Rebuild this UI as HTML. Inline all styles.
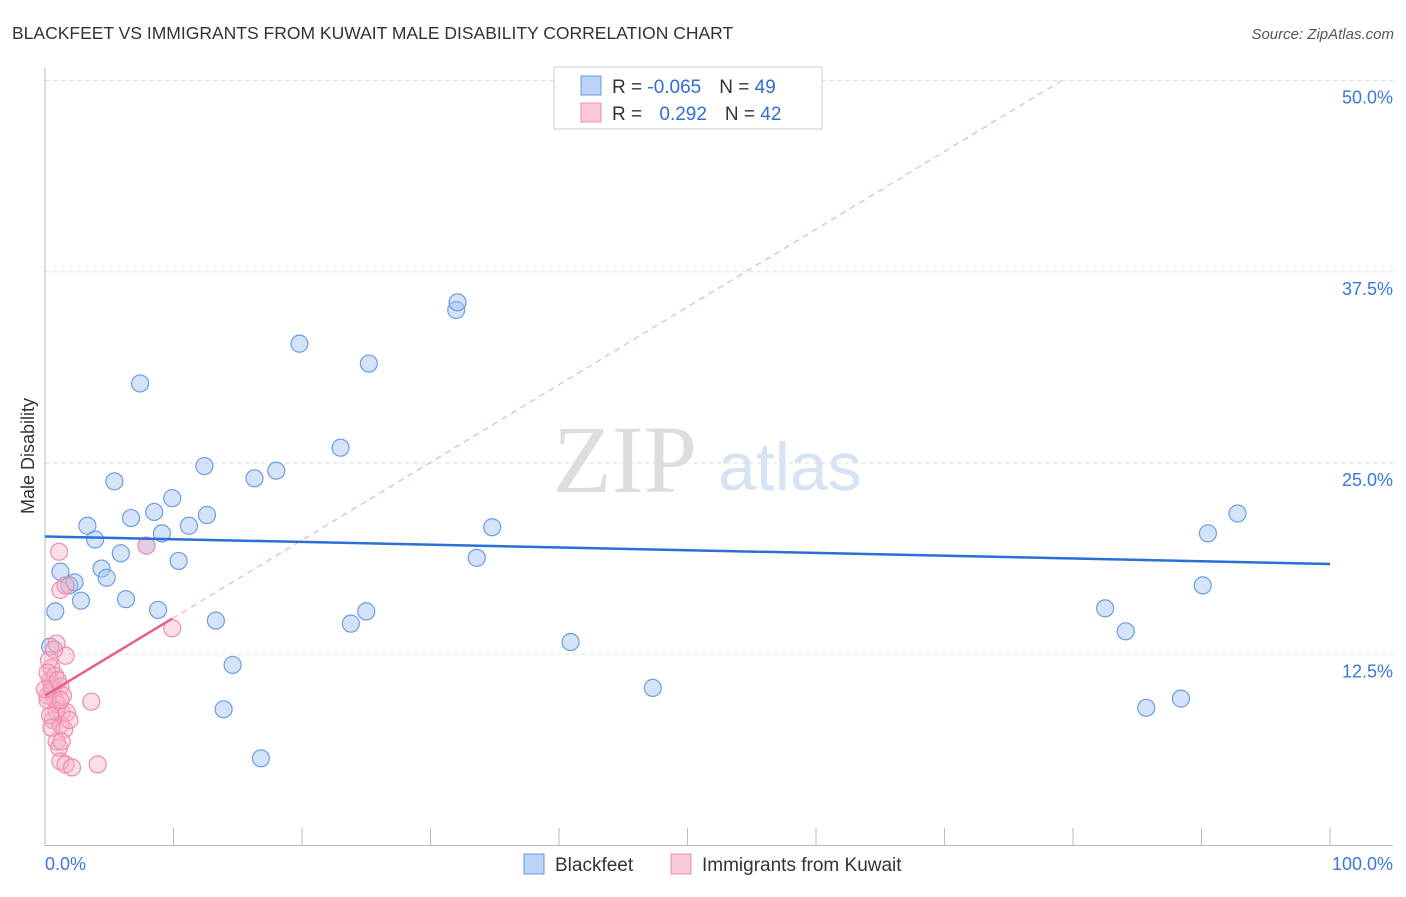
<!DOCTYPE html>
<html><head><meta charset="utf-8"><style>
body{margin:0;background:#fff;font-family:"Liberation Sans",sans-serif}
svg text{font-family:"Liberation Sans",sans-serif}
</style></head><body>
<svg id="chart" width="1406" height="892" viewBox="0 0 1406 892" xmlns="http://www.w3.org/2000/svg">
<text x="12" y="39" font-size="17.5" fill="#333">BLACKFEET VS IMMIGRANTS FROM KUWAIT MALE DISABILITY CORRELATION CHART</text>
<text x="1394" y="39" font-size="15" fill="#555" text-anchor="end" font-style="italic">Source: ZipAtlas.com</text>
<text x="553" y="492" font-size="96" fill="#ddd" font-family="Liberation Serif" style="font-family:'Liberation Serif',serif">ZIP</text>
<text x="718" y="490" font-size="68" fill="#d6e3f5">atlas</text>
<g id="grid"></g>
<g id="axes"></g>
<g id="marks"></g>
<text transform="translate(34,456) rotate(-90)" font-size="18" fill="#333" text-anchor="middle">Male Disability</text>
<g>
<rect x="554" y="67" width="268" height="62" fill="#fff" stroke="#ccc"/>
<rect x="581" y="76" width="20" height="19" fill="#bcd3f5" stroke="#6a9ae0"/>
<rect x="581" y="103" width="20" height="19" fill="#fbc8d8" stroke="#f08cab"/>
<text x="612" y="93" font-size="19" fill="#333">R = <tspan fill="#2f6fd4">-0.065</tspan><tspan dx="18">N = </tspan><tspan fill="#2f6fd4">49</tspan></text>
<text x="612" y="120" font-size="19" fill="#333">R = <tspan dx="12" fill="#2f6fd4">0.292</tspan><tspan dx="18">N = </tspan><tspan fill="#2f6fd4">42</tspan></text>
</g>
<g>
<rect x="524" y="854" width="20" height="20" fill="#bcd3f5" stroke="#6a9ae0"/>
<text x="555" y="871" font-size="19" fill="#333">Blackfeet</text>
<rect x="671" y="854" width="20" height="20" fill="#fbc8d8" stroke="#f08cab"/>
<text x="702" y="871" font-size="19" fill="#333">Immigrants from Kuwait</text>
</g>
</svg>
<script>
const yTicks=[12.5,25,37.5,50];
const yTickLabels=["12.5%","25.0%","37.5%","50.0%"];
const xTickCount=10;
const blueX=[0.8,1.2,1.9,2.3,2.8,3.3,3.9,4.4,4.8,5.4,5.9,6.3,6.7,7.4,7.9,8.5,8.8,9.1,9.9,10.4,11.2,12.4,12.6,13.3,13.9,14.6,16.3,16.8,18.0,19.8,23.0,23.8,25.0,25.2,32.0,32.1,33.6,34.8,40.9,47.3,50.0,82.5,84.1,85.7,88.4,90.1,90.5,92.8,0.4];
const blueY=[15.3,17.9,17.0,17.2,16.0,20.9,20.0,18.1,17.5,23.8,19.1,16.1,21.4,30.2,19.6,21.8,15.4,20.4,22.7,18.6,20.9,24.8,21.6,14.7,8.9,11.8,24.0,5.7,24.5,32.8,26.0,14.5,15.3,31.5,35.0,35.5,18.8,20.8,13.3,10.3,50.0,15.5,14.0,9.0,9.6,17.0,20.4,21.7,13.0];
const pinkX=[1.1,1.2,1.6,7.9,9.9,0.9,1.6,0.5,0.4,0.5,0.8,0.2,1.0,1.3,0.6,1.2,1.5,0.9,1.1,1.2,1.6,2.1,4.1,3.6,0.5,0.8,0.3,1.2,0.9,1.7,0.6,0.2,1.4,0.4,1.9,0.7,0.2,1.0,1.3,0.5,0.0,1.2];
const pinkY=[19.2,16.7,17.0,19.6,14.2,13.2,12.4,11.6,10.8,10.2,9.5,9.8,9.2,8.7,8.2,7.9,7.6,6.8,6.4,5.5,5.3,5.1,5.3,9.4,10.5,11.1,12.1,10.4,8.8,8.7,10.2,9.5,9.8,8.5,8.2,12.8,11.3,10.8,6.8,7.7,10.2,9.5];
const blueLine=[20.2,18.4];
const pinkLine=[9.8,0.508];
const NS="http://www.w3.org/2000/svg";
const sx=v=>45+v*12.85, sy=v=>845.5-v*15.3;
function mk(p,t,a){const e=document.createElementNS(NS,t);for(const k in a)e.setAttribute(k,a[k]);p.appendChild(e);return e;}
const grid=document.getElementById('grid'),axes=document.getElementById('axes'),marks=document.getElementById('marks');
yTicks.forEach((t,i)=>{
 const l=mk(grid,'line',{x1:45,x2:1393,y1:sy(t),y2:sy(t),stroke:'#ddd','stroke-dasharray':'4,4'});
 
 
 const tx=mk(axes,'text',{x:1393,y:sy(t)+23,'font-size':18,fill:'#3b78d8','text-anchor':'end'});
 tx.textContent=yTickLabels[i];
 
 
});
mk(axes,'line',{x1:45,x2:45,y1:68,y2:846,stroke:'#bbb'});
mk(axes,'line',{x1:45,x2:1393,y1:845.5,y2:845.5,stroke:'#bbb'});
for(let i=1;i<=xTickCount;i++){const x=sx(i*10);const t=mk(axes,'line',{x1:x,x2:x,y1:828,y2:845,stroke:'#bbb'});
 
 }
let a=mk(axes,'text',{x:45,y:870,'font-size':18,fill:'#3b78d8'});a.textContent='0.0%';

a=mk(axes,'text',{x:1393,y:870,'font-size':18,fill:'#3b78d8','text-anchor':'end'});a.textContent='100.0%';

// dashed pink extension
const xEnd=(50-pinkLine[0])/pinkLine[1];
mk(marks,'line',{x1:sx(9.9),y1:sy(pinkLine[0]+pinkLine[1]*9.9),x2:sx(xEnd),y2:sy(50),stroke:'#f0a0b8','stroke-dasharray':'6,5','stroke-width':1});
blueX.forEach((x,i)=>{const c=mk(marks,'circle',{cx:sx(x),cy:sy(blueY[i]),r:8.5,fill:'rgba(160,192,240,0.45)',stroke:'#6d9de3','stroke-width':1.2});
 
 });
pinkX.forEach((x,i)=>{const c=mk(marks,'circle',{cx:sx(x),cy:sy(pinkY[i]),r:8.5,fill:'rgba(246,175,198,0.4)',stroke:'#f08cab','stroke-width':1.2});
 
 });
let bl=mk(marks,'line',{x1:sx(0),y1:sy(blueLine[0]),x2:sx(100),y2:sy(blueLine[1]),stroke:'#2a6fd6','stroke-width':2.5});


let pl=mk(marks,'line',{x1:sx(0),y1:sy(pinkLine[0]),x2:sx(9.9),y2:sy(pinkLine[0]+pinkLine[1]*9.9),stroke:'#e8608a','stroke-width':2.5});


</script>
</body></html>
